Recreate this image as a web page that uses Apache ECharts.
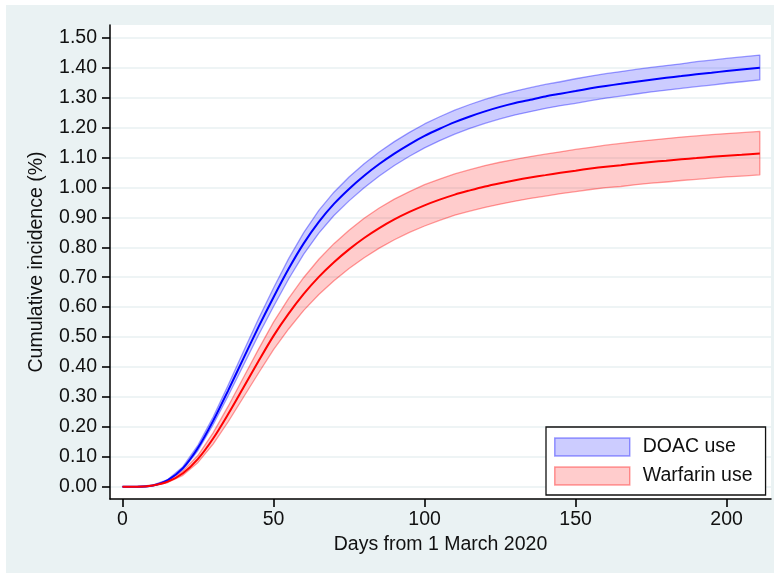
<!DOCTYPE html>
<html><head><meta charset="utf-8">
<script src="https://cdn.jsdelivr.net/npm/echarts@6/dist/echarts.min.js"></script>
<style>html,body{margin:0;padding:0;background:#fff}#c{width:774px;height:573px}</style>
</head><body><div id="c"></div>
<script>
const days = [0,5,10,15,20,25,30,35,40,45,50,55,60,65,70,75,80,85,90,95,100,105,110,115,120,125,130,135,140,145,150,155,160,165,170,175,180,185,190,195,200,205,211];
const doacMean  = [0,0,0.004,0.022,0.062,0.13,0.22,0.322,0.428,0.533,0.633,0.728,0.813,0.885,0.945,0.995,1.039,1.078,1.113,1.144,1.172,1.196,1.218,1.237,1.254,1.269,1.282,1.293,1.304,1.313,1.322,1.331,1.339,1.346,1.353,1.36,1.366,1.372,1.378,1.383,1.389,1.394,1.4];
const doacLower = [0,0,0.003,0.02,0.057,0.121,0.207,0.304,0.405,0.506,0.602,0.694,0.777,0.847,0.906,0.955,0.999,1.038,1.073,1.104,1.132,1.156,1.178,1.197,1.214,1.229,1.242,1.253,1.264,1.273,1.281,1.29,1.298,1.305,1.312,1.319,1.325,1.331,1.337,1.342,1.348,1.353,1.359];
const doacUpper = [0,0.001,0.005,0.024,0.067,0.139,0.233,0.34,0.451,0.56,0.664,0.762,0.849,0.923,0.984,1.035,1.079,1.118,1.153,1.184,1.212,1.236,1.258,1.277,1.294,1.309,1.322,1.333,1.344,1.353,1.363,1.372,1.38,1.387,1.394,1.401,1.407,1.413,1.42,1.425,1.431,1.436,1.442];
const warfMean  = [0,0,0.004,0.017,0.045,0.093,0.161,0.243,0.331,0.419,0.504,0.578,0.644,0.701,0.75,0.793,0.831,0.864,0.893,0.918,0.94,0.959,0.976,0.99,1.003,1.014,1.024,1.033,1.041,1.049,1.056,1.063,1.069,1.074,1.08,1.085,1.089,1.094,1.098,1.102,1.106,1.109,1.113];
const warfLower = [0,0,0.003,0.014,0.038,0.081,0.142,0.217,0.298,0.379,0.458,0.527,0.589,0.642,0.688,0.729,0.765,0.797,0.825,0.85,0.871,0.89,0.907,0.921,0.933,0.944,0.954,0.963,0.971,0.979,0.986,0.993,0.999,1.003,1.009,1.014,1.018,1.023,1.027,1.031,1.035,1.038,1.042];
const warfUpper = [0,0.001,0.005,0.02,0.052,0.105,0.18,0.269,0.364,0.459,0.55,0.629,0.699,0.76,0.812,0.857,0.897,0.931,0.961,0.986,1.009,1.028,1.045,1.059,1.073,1.084,1.094,1.103,1.111,1.119,1.127,1.134,1.141,1.147,1.153,1.158,1.163,1.168,1.172,1.176,1.18,1.183,1.187];
const xTicks = [0,50,100,150,200];
const yTicks = [0,0.1,0.2,0.3,0.4,0.5,0.6,0.7,0.8,0.9,1.0,1.1,1.2,1.3,1.4,1.5];
const seriesNames = ['DOAC use','Warfarin use'];
const xTitle = 'Days from 1 March 2020';
const yTitle = 'Cumulative incidence (%)';

const FONT = "'Liberation Sans', Arial, Helvetica, sans-serif";
const FS = 19.5;
const blueFill = 'rgba(0,0,255,0.2)', blueEdge = 'rgba(0,0,255,0.38)';
const redFill = 'rgba(255,0,0,0.2)', redEdge = 'rgba(255,0,0,0.38)';

function bandRender(lower, upper, fill, stroke) {
  return function (params, api) {
    if (params.dataIndex !== 0) return;
    const top = days.map((d, i) => api.coord([d, upper[i]]));
    const bot = days.map((d, i) => api.coord([d, lower[i]])).reverse();
    return { type: 'polygon', shape: { points: top.concat(bot) },
      style: { fill: fill, stroke: stroke, lineWidth: 1.3, lineJoin: 'round' } };
  };
}

const chart = echarts.init(document.getElementById('c'), null, { renderer: 'canvas' });
chart.setOption({
  backgroundColor: '#fff',
  animation: false,
  textStyle: { fontFamily: FONT },
  graphic: { elements: [{ type: 'rect', z: -100, silent: true, left: 6, top: 5,
    shape: { width: 768, height: 568 }, style: { fill: '#eaf2f3' } }] },
  grid: { left: 110, top: 25, right: 3, bottom: 74, show: true, backgroundColor: '#fff', borderWidth: 0 },
  xAxis: {
    type: 'value', min: -4.14, max: 214.7,
    axisLine: { onZero: false, lineStyle: { color: '#000', width: 1.5 } },
    axisTick: { customValues: xTicks, length: 8, lineStyle: { color: '#000', width: 1.6 } },
    axisLabel: { customValues: xTicks, fontSize: FS, color: '#111', margin: 11, fontFamily: FONT },
    splitLine: { show: false },
    name: xTitle, nameLocation: 'middle', nameGap: 31,
    nameTextStyle: { fontSize: FS, color: '#111', fontFamily: FONT }
  },
  yAxis: {
    type: 'value', min: -0.0411, max: 1.5426,
    axisLine: { onZero: false, lineStyle: { color: '#000', width: 1.5 } },
    axisTick: { customValues: yTicks, length: 8, lineStyle: { color: '#000', width: 1.6 } },
    axisLabel: { customValues: yTicks, fontSize: FS, color: '#111', margin: 13, fontFamily: FONT,
      formatter: v => v.toFixed(2) },
    splitLine: { show: true, lineStyle: { color: '#e8f0f2', width: 1.5 } },
    name: yTitle, nameLocation: 'middle', nameGap: 63, nameRotate: 90,
    nameTextStyle: { fontSize: FS, color: '#111', fontFamily: FONT }
  },
  legend: {
    orient: 'vertical', left: 546, top: 427,
    data: [
      { name: seriesNames[0], icon: 'rect', itemStyle: { color: blueFill, borderColor: blueEdge, borderWidth: 1.5 } },
      { name: seriesNames[1], icon: 'rect', itemStyle: { color: redFill, borderColor: redEdge, borderWidth: 1.5 } }
    ],
    itemWidth: 75, itemHeight: 18, itemGap: 9,
    padding: [10, 13, 9, 8],
    borderColor: '#111', borderWidth: 1.3, backgroundColor: '#fff',
    selectedMode: false,
    textStyle: { fontSize: FS, color: '#111', fontFamily: FONT, padding: [0, 0, 0, 8], lineHeight: 18 }
  },
  series: [
    { name: seriesNames[0], type: 'custom', renderItem: bandRender(doacLower, doacUpper, blueFill, blueEdge),
      itemStyle: { color: blueFill }, encode: { x: 0, y: [1, 2] },
      data: days.map((d, i) => [d, doacLower[i], doacUpper[i]]), z: 1 },
    { name: seriesNames[1], type: 'custom', renderItem: bandRender(warfLower, warfUpper, redFill, redEdge),
      itemStyle: { color: redFill }, encode: { x: 0, y: [1, 2] },
      data: days.map((d, i) => [d, warfLower[i], warfUpper[i]]), z: 1 },
    { name: 'DOAC line', type: 'line', smooth: 0.3, showSymbol: false, symbol: 'none',
      lineStyle: { color: '#0000ff', width: 2 }, itemStyle: { color: '#0000ff' },
      data: days.map((d, i) => [d, doacMean[i]]), z: 2 },
    { name: 'Warfarin line', type: 'line', smooth: 0.3, showSymbol: false, symbol: 'none',
      lineStyle: { color: '#ff0000', width: 2 }, itemStyle: { color: '#ff0000' },
      data: days.map((d, i) => [d, warfMean[i]]), z: 2 }
  ]
});
</script></body></html>
